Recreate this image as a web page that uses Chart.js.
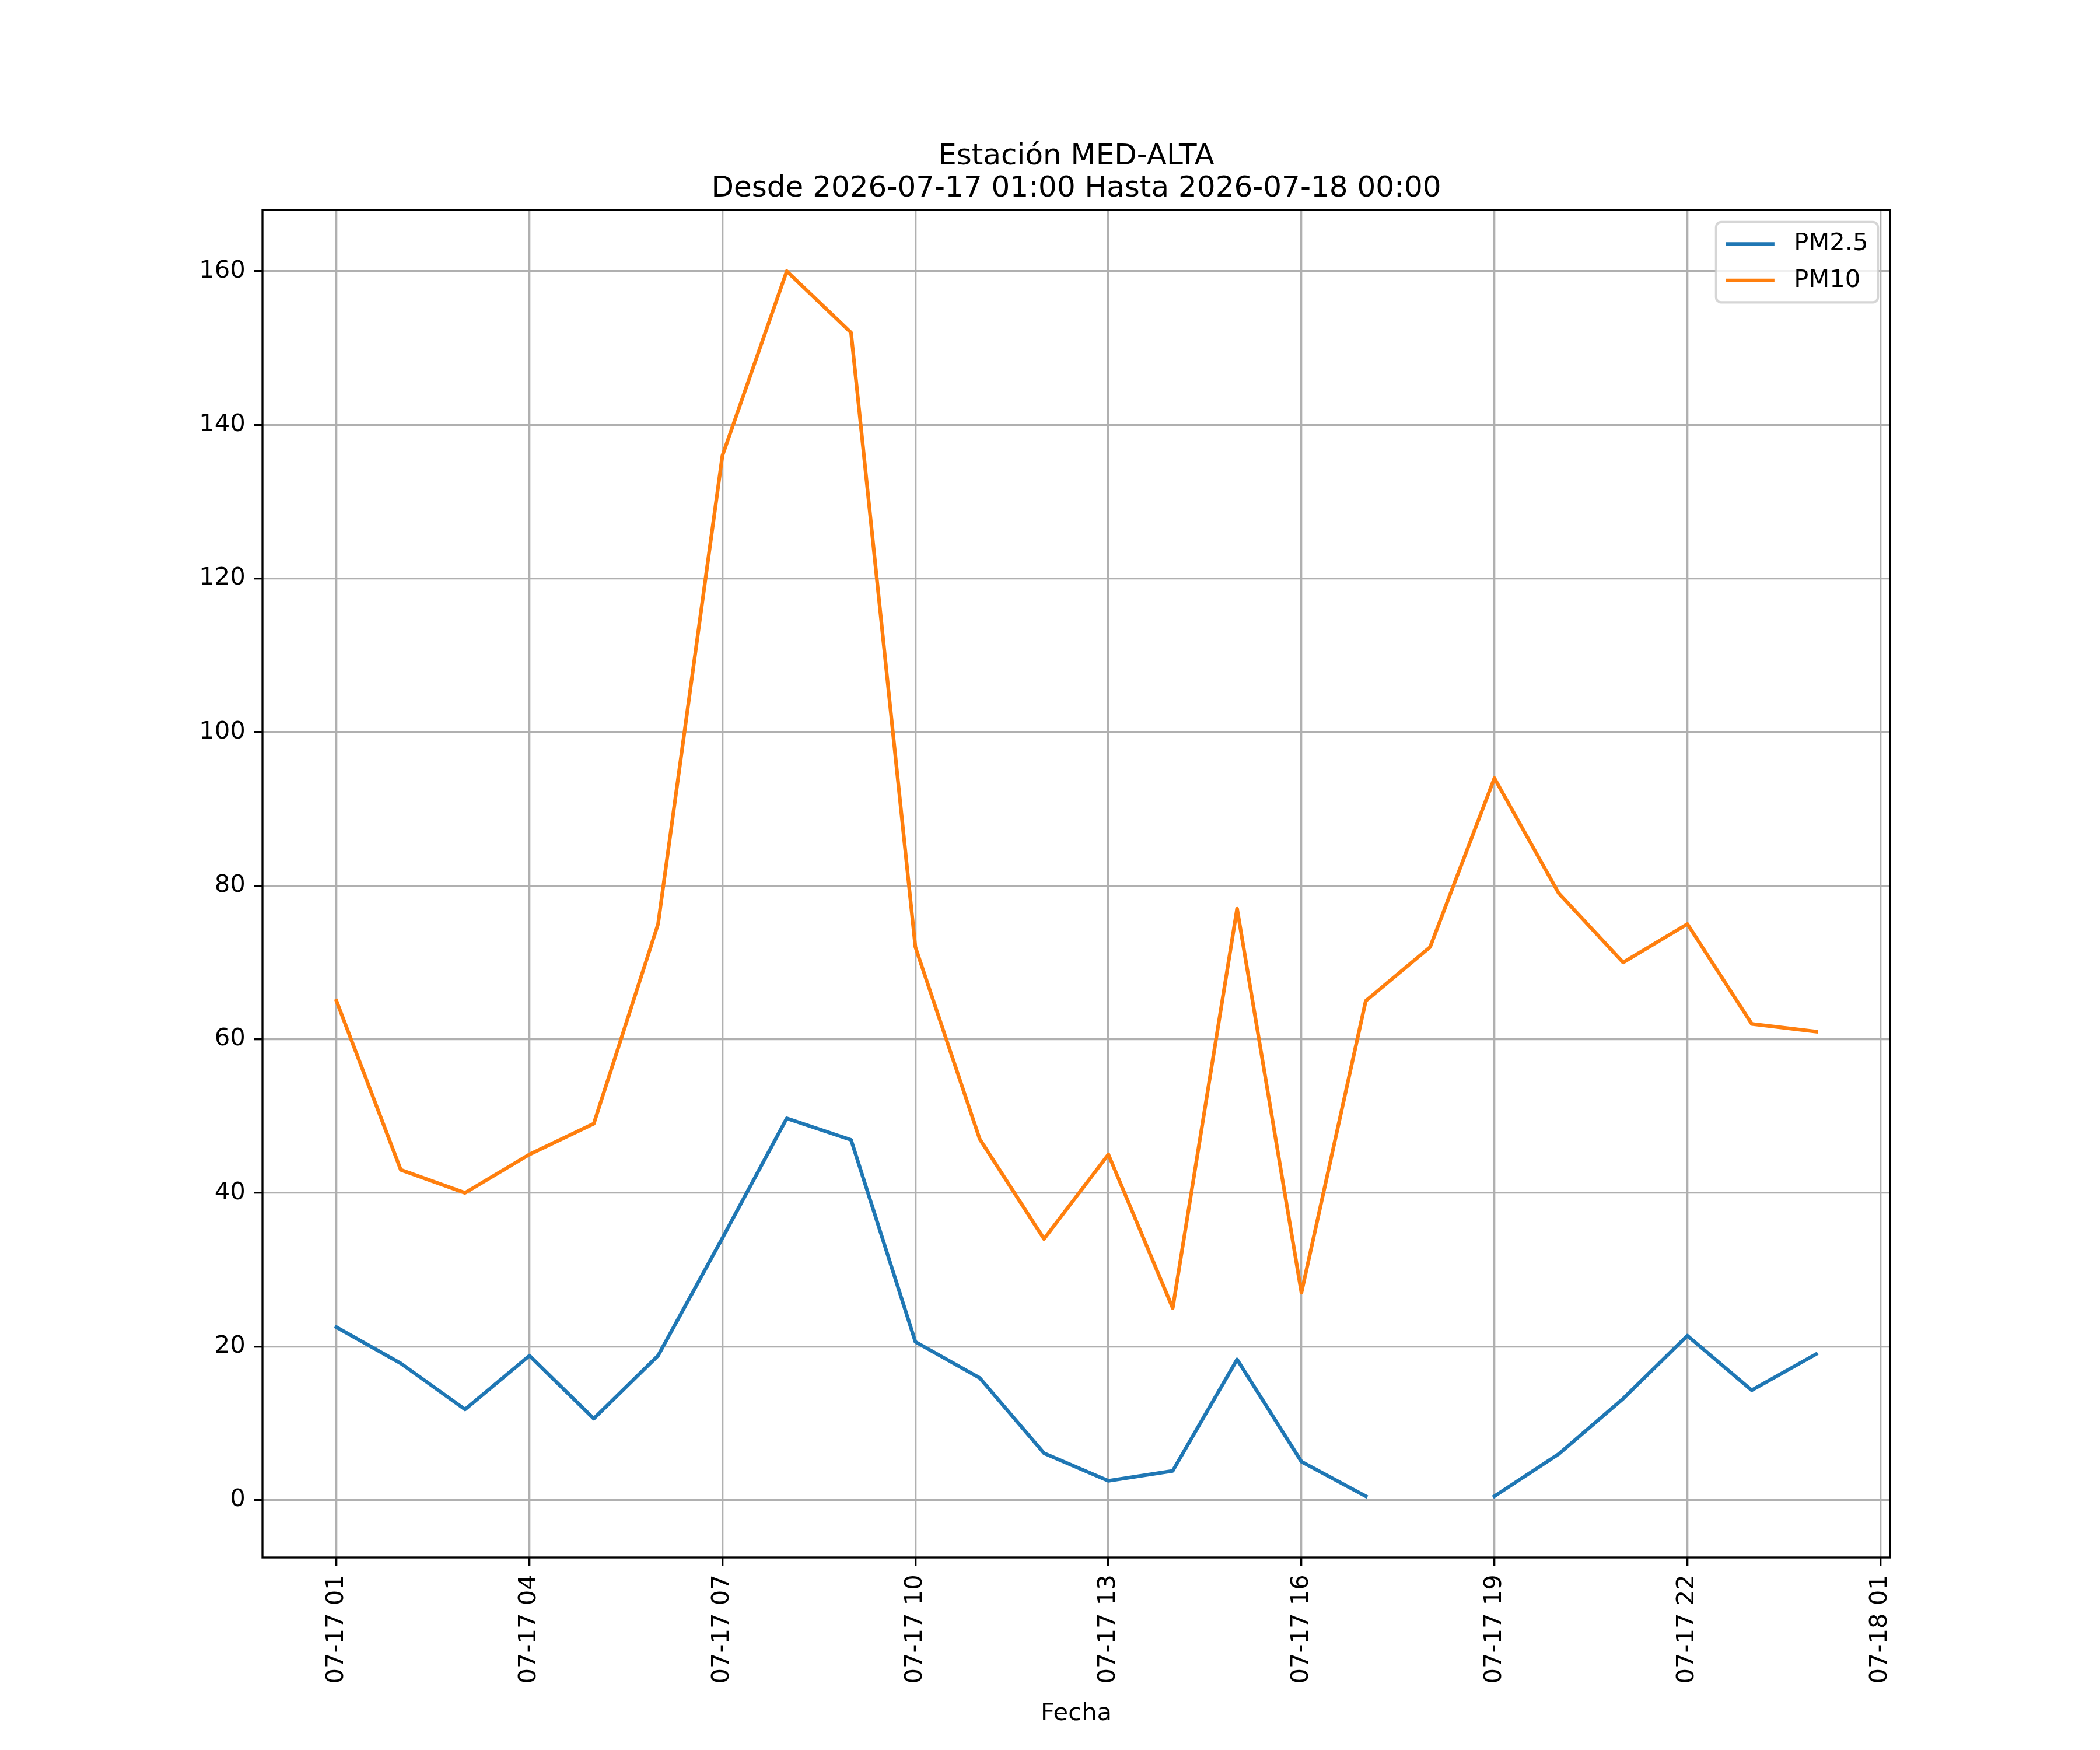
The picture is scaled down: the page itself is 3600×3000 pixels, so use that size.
<!DOCTYPE html>
<html>
<head>
<meta charset="utf-8">
<title>Estación MED-ALTA</title>
<script src="https://cdn.jsdelivr.net/npm/chart.js@4.4.1/dist/chart.umd.min.js"></script>
<style>
    html, body { margin: 0; padding: 0; background: #ffffff; }
    canvas { display: block; }
</style>
</head>
<body>
<canvas id="chart" width="3600" height="3000"></canvas>
<script>
/**
 * Hour of 2026-07-17 for each reading (24 = 00:00 of the 18th).
 */
const hours = [1, 2, 3, 4, 5, 6, 7, 8, 9, 10, 11, 12, 13, 14, 15, 16, 17, 18, 19, 20, 21, 22, 23, 24];

/**
 * PM2.5 readings (null = missing hour).
 */
const pm25 = [22.5, 17.8, 11.8, 18.8, 10.6, 18.8, 34.1, 49.7, 46.9, 20.6, 15.9, 6.1,
    2.5, 3.8, 18.3, 5.0, 0.5, null, 0.5, 6.0, 13.2, 21.4, 14.3, 19.0];

/**
 * PM10 readings.
 */
const pm10 = [65, 43, 40, 45, 49, 75, 136, 160, 152, 72, 47, 34,
    45, 25, 77, 27, 65, 72, 94, 79, 70, 75, 62, 61];

const seriesLabels = ['PM2.5', 'PM10'];
const seriesColors = ['#1f77b4', '#ff7f0e'];

/**
 * The tick marks.
 */
const xTickHours = [1, 4, 7, 10, 13, 16, 19, 22, 25];
const xTickLabels = ['07-17 01', '07-17 04', '07-17 07', '07-17 10', '07-17 13',
    '07-17 16', '07-17 19', '07-17 22', '07-18 01'];
const yTickValues = [0, 20, 40, 60, 80, 100, 120, 140, 160];

const titleLines = ['Estación MED-ALTA', 'Desde 2026-07-17 01:00 Hasta 2026-07-18 00:00'];
const xAxisLabel = 'Fecha';

// figure is 12x10 in at 300 dpi
const PT = 300 / 72;
const FONT = "'DejaVu Sans', sans-serif";
const FONT_SIZE = 10 * PT;

/**
 * Data range with a 5% margin on both sides, like matplotlib does.
 *
 * @param values The values, nulls are skipped.
 * @returns {number[]}
 */
function paddedRange(values) {
    const v = values.filter(n => n !== null);
    const lo = Math.min(...v);
    const hi = Math.max(...v);
    const span = hi - lo;
    return [lo - span * 0.05, hi + span * 0.05];
}

/**
 * Draws the four axes spines.
 */
const framePlugin = {
    id: 'frame',
    afterDatasetsDraw(chart) {
        const {ctx, chartArea} = chart;
        ctx.save();
        ctx.strokeStyle = '#000000';
        ctx.lineWidth = 0.8 * PT;
        ctx.lineJoin = 'miter';
        ctx.strokeRect(chartArea.left, chartArea.top,
            chartArea.right - chartArea.left, chartArea.bottom - chartArea.top);
        ctx.restore();
    }
};

/**
 * Draws the legend inside the upper right corner of the plot.
 */
const legendPlugin = {
    id: 'boxLegend',
    afterDraw(chart) {
        const {ctx, chartArea} = chart;
        const fs = FONT_SIZE;
        const pad = 0.4 * fs;
        const rowHeight = fs;
        const spacing = 0.5 * fs;
        const handle = 2 * fs;
        const handlePad = 0.8 * fs;
        const datasets = chart.data.datasets;

        ctx.save();
        ctx.font = `${fs}px ${FONT}`;
        const textWidth = Math.max(...datasets.map(d => ctx.measureText(d.label).width));
        const width = pad + handle + handlePad + textWidth + pad;
        const height = pad * 2 + rowHeight * datasets.length + spacing * (datasets.length - 1);
        const right = chartArea.right - 0.5 * fs;
        const left = right - width;
        const top = chartArea.top + 0.5 * fs;

        ctx.beginPath();
        ctx.roundRect(left, top, width, height, 0.2 * fs);
        ctx.fillStyle = 'rgba(255, 255, 255, 0.8)';
        ctx.fill();
        ctx.strokeStyle = 'rgba(204, 204, 204, 0.8)';
        ctx.lineWidth = 1 * PT;
        ctx.stroke();

        datasets.forEach((d, i) => {
            const y = top + pad + rowHeight / 2 + i * (rowHeight + spacing);
            ctx.beginPath();
            ctx.moveTo(left + pad, y);
            ctx.lineTo(left + pad + handle, y);
            ctx.strokeStyle = d.borderColor;
            ctx.lineWidth = 1.5 * PT;
            ctx.lineCap = 'butt';
            ctx.stroke();
            ctx.fillStyle = '#000000';
            ctx.textAlign = 'left';
            ctx.textBaseline = 'middle';
            ctx.fillText(d.label, left + pad + handle + handlePad, y);
        });
        ctx.restore();
    }
};

document.addEventListener('DOMContentLoaded', function () {
    const [xMin, xMax] = paddedRange(hours);
    const [yMin, yMax] = paddedRange(pm25.concat(pm10));
    const series = [pm25, pm10];

    const datasets = series.map((values, i) => ({
        label: seriesLabels[i],
        data: hours.map((h, j) => ({x: h, y: values[j]})),
        borderColor: seriesColors[i],
        backgroundColor: seriesColors[i],
        borderWidth: 1.5 * PT,
        borderJoinStyle: 'round',
        borderCapStyle: 'square',
        pointRadius: 0,
        tension: 0,
        spanGaps: false,
        fill: false
    }));

    new Chart(document.getElementById('chart').getContext('2d'), {
        type: 'line',
        data: {datasets: datasets},
        plugins: [framePlugin, legendPlugin],
        options: {
            responsive: false,
            animation: false,
            devicePixelRatio: 1,
            events: [],
            layout: {
                padding: {left: 0, right: 360, top: 241.5, bottom: 0}
            },
            plugins: {
                legend: {display: false},
                tooltip: {enabled: false},
                title: {
                    display: true,
                    fullSize: false,
                    text: titleLines,
                    color: '#000000',
                    font: {family: FONT, size: 12 * PT, weight: 'normal', lineHeight: 1.1},
                    padding: {top: 0, bottom: 8.5}
                }
            },
            scales: {
                x: {
                    type: 'linear',
                    min: xMin,
                    max: xMax,
                    bounds: 'data',
                    afterBuildTicks(scale) {
                        scale.ticks = xTickHours.map(v => ({value: v}));
                    },
                    afterFit(scale) {
                        scale.height = 330;
                    },
                    ticks: {
                        autoSkip: false,
                        minRotation: 90,
                        maxRotation: 90,
                        padding: 3.5 * PT,
                        color: '#000000',
                        font: {family: FONT, size: FONT_SIZE},
                        callback: value => xTickLabels[xTickHours.indexOf(value)]
                    },
                    grid: {
                        color: '#b0b0b0',
                        lineWidth: 0.8 * PT,
                        drawTicks: true,
                        tickLength: 3.5 * PT,
                        tickColor: '#000000',
                        tickWidth: 0.8 * PT
                    },
                    border: {display: false},
                    title: {
                        display: true,
                        text: xAxisLabel,
                        color: '#000000',
                        font: {family: FONT, size: FONT_SIZE},
                        padding: {top: 0, bottom: 37}
                    }
                },
                y: {
                    type: 'linear',
                    min: yMin,
                    max: yMax,
                    bounds: 'data',
                    afterBuildTicks(scale) {
                        scale.ticks = yTickValues.map(v => ({value: v}));
                    },
                    afterFit(scale) {
                        scale.width = 450;
                    },
                    ticks: {
                        padding: 3.5 * PT,
                        color: '#000000',
                        font: {family: FONT, size: FONT_SIZE},
                        callback: value => String(value)
                    },
                    grid: {
                        color: '#b0b0b0',
                        lineWidth: 0.8 * PT,
                        drawTicks: true,
                        tickLength: 3.5 * PT,
                        tickColor: '#000000',
                        tickWidth: 0.8 * PT
                    },
                    border: {display: false}
                }
            }
        }
    });
});
</script>
</body>
</html>
